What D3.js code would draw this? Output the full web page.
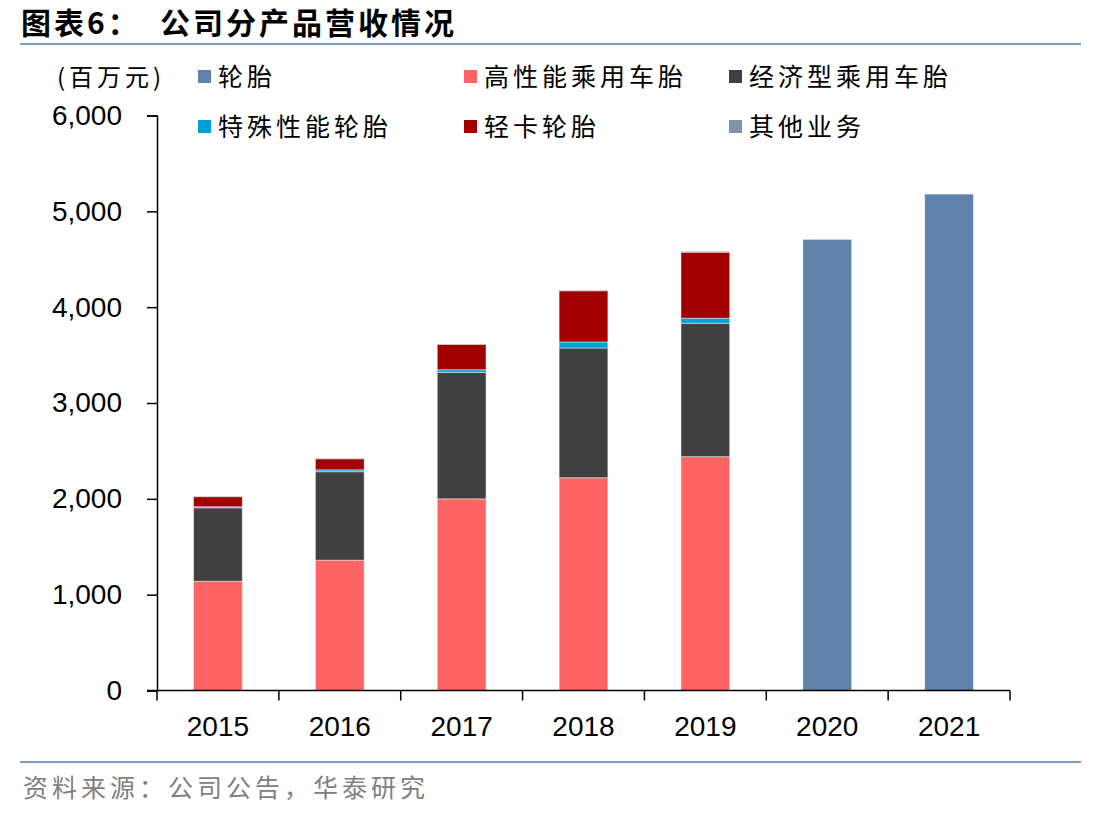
<!DOCTYPE html>
<html lang="zh">
<head>
  <meta charset="UTF-8">
  <title>公司分产品营收情况</title>
  <script src="https://d3js.org/d3.v7.min.js"></script>
  <style>
    body { margin: 0; background: #fff; }
    svg text { font-family: "Liberation Sans", Arial, sans-serif; }
    .cjk { font-family: "Noto Sans CJK SC", sans-serif; }
  </style>
</head>
<body>
  <div id="chart"></div>
  <script>
    // Data (百万元)
    const years = ['2015', '2016', '2017', '2018', '2019', '2020', '2021'];
    const seriesNames = ['轮胎', '高性能乘用车胎', '经济型乘用车胎', '特殊性能轮胎', '轻卡轮胎', '其他业务'];
    const tyres       = [0, 0, 0, 0, 0, 4707, 5180];
    const highPerf    = [1140, 1360, 2000, 2220, 2440, 0, 0];
    const economy     = [766, 923, 1319, 1354, 1392, 0, 0];
    const special     = [12, 20, 28, 63, 53, 0, 0];
    const lightTruck  = [105, 115, 265, 534, 688, 0, 0];
    const others      = [4, 5, 4, 6, 10, 0, 0];
    const yTicks = [0, 1000, 2000, 3000, 4000, 5000, 6000];

    const colors = ['#5f82aa', '#ff6363', '#404040', '#00a0d8', '#a00000', '#8790ab'];

    const W = 1111, H = 816;
    const svg = d3.select('#chart').append('svg')
      .attr('width', W).attr('height', H);

    // title + rules
    svg.append('text').attr('class', 'cjk')
      .attr('x', 21).attr('y', 34)
      .style('font-size', '30px').style('font-weight', 'bold')
      .style('letter-spacing', '3px')
      .text('图表6：');
    svg.append('text').attr('class', 'cjk')
      .attr('x', 160).attr('y', 34)
      .style('font-size', '30px').style('font-weight', 'bold')
      .style('letter-spacing', '3px')
      .text('公司分产品营收情况');
    svg.append('line').attr('x1', 20).attr('x2', 1081).attr('y1', 44).attr('y2', 44)
      .attr('stroke', '#7f9cc4').attr('stroke-width', 2);
    svg.append('line').attr('x1', 20).attr('x2', 1081).attr('y1', 762).attr('y2', 762)
      .attr('stroke', '#7f9cc4').attr('stroke-width', 2);
    svg.append('text').attr('class', 'cjk')
      .attr('x', 23).attr('y', 797)
      .style('font-size', '25px').style('letter-spacing', '4px')
      .attr('fill', '#808080')
      .text('资料来源：公司公告，华泰研究');

    // scales
    const x = d3.scaleBand().domain(years).range([157, 1010]).padding(0);
    const y = d3.scaleLinear().domain([0, 6000]).range([690.5, 115.5]);
    const barW = x.bandwidth() * 0.4;

    // stacked data
    const rows = years.map((yr, i) => ({
      year: yr,
      s0: tyres[i], s1: highPerf[i], s2: economy[i], s3: special[i], s4: lightTruck[i], s5: others[i]
    }));
    const keys = ['s1', 's2', 's3', 's4', 's5', 's0'];
    const keyColor = { s0: colors[0], s1: colors[1], s2: colors[2], s3: colors[3], s4: colors[4], s5: colors[5] };
    const stack = d3.stack().keys(keys)(rows);

    svg.append('g').selectAll('g')
      .data(stack)
      .enter().append('g')
      .attr('fill', d => keyColor[d.key])
      .selectAll('rect')
      .data(d => d.filter(p => p[1] - p[0] > 0))
      .enter().append('rect')
      .attr('x', d => x(d.data.year) + (x.bandwidth() - barW) / 2)
      .attr('y', d => y(d[1]))
      .attr('width', barW)
      .attr('height', d => y(d[0]) - y(d[1]))
      .attr('stroke', 'rgba(255,255,255,0.45)')
      .attr('stroke-width', 1);

    // y axis
    const yAxis = svg.append('g')
      .attr('transform', 'translate(157,0)')
      .call(d3.axisLeft(y).tickValues(yTicks).tickSize(10).tickPadding(25)
        .tickFormat(d3.format(',')));
    yAxis.select('.domain').attr('stroke', '#000').attr('stroke-width', 1.5);
    yAxis.selectAll('.tick line').attr('stroke', '#000').attr('stroke-width', 1.5);
    yAxis.selectAll('.tick text').style('font-size', '28px').attr('fill', '#000');

    // x axis: ticks on category boundaries
    const xg = svg.append('g').attr('transform', 'translate(0,690.5)');
    xg.append('line').attr('x1', 147).attr('x2', 1010).attr('stroke', '#000').attr('stroke-width', 1.5);
    const bounds = years.map(d => x(d)).concat([x(years[years.length - 1]) + x.bandwidth()]);
    xg.selectAll('.xt').data(bounds).enter().append('line')
      .attr('x1', d => d).attr('x2', d => d).attr('y1', 0).attr('y2', 10)
      .attr('stroke', '#000').attr('stroke-width', 1.5);
    xg.selectAll('.xl').data(years).enter().append('text')
      .attr('x', d => x(d) + x.bandwidth() / 2)
      .attr('y', 45)
      .attr('text-anchor', 'middle')
      .style('font-size', '28px')
      .text(d => d);

    // unit label
    svg.append('text').attr('class', 'cjk')
      .attr('x', 57).attr('y', 86)
      .style('font-size', '24px').style('letter-spacing', '4px')
      .text('(百万元)');

    // legend
    const legendPos = [[198, 77], [464, 77], [729, 77], [198, 127], [464, 127], [729, 127]];
    const lg = svg.append('g').selectAll('g')
      .data(seriesNames)
      .enter().append('g')
      .attr('transform', (d, i) => `translate(${legendPos[i][0]},${legendPos[i][1]})`);
    lg.append('rect').attr('x', 0).attr('y', -7).attr('width', 13).attr('height', 13)
      .attr('fill', (d, i) => colors[i]);
    lg.append('text').attr('class', 'cjk')
      .attr('x', 20).attr('y', 9)
      .style('font-size', '25px')
      .style('letter-spacing', '4px')
      .text(d => d);
  </script>
</body>
</html>
